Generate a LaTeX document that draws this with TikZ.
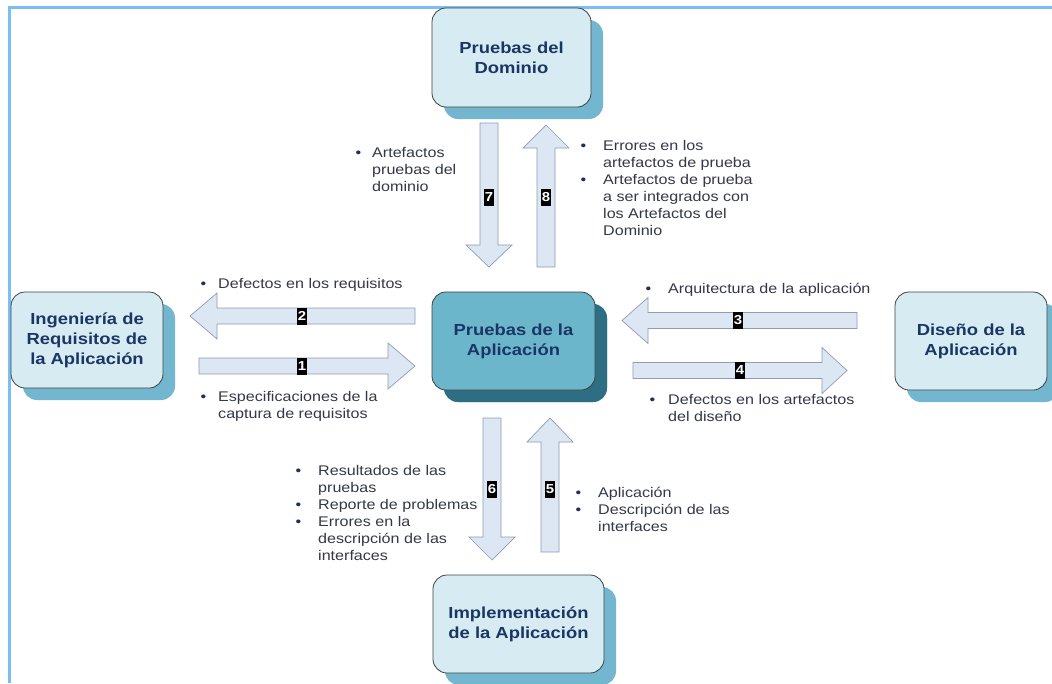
\documentclass[tikz,border=0pt]{standalone}
\usepackage{fontspec}
\setmainfont[FakeStretch=1.15]{Liberation Sans}
\usetikzlibrary{shadows}
\definecolor{framec}{HTML}{7ABEF4}
\definecolor{boxlight}{HTML}{D6ECF2}
\definecolor{shadowlight}{HTML}{72B7CF}
\definecolor{boxmid}{HTML}{6CB6CC}
\definecolor{shadowdark}{HTML}{2D6E82}
\definecolor{titlec}{HTML}{1B3565}
\definecolor{textc}{HTML}{33384A}
\definecolor{bulc}{HTML}{1E2F5C}
\definecolor{arrowfill}{HTML}{DDE7F3}
\definecolor{arrowdraw}{HTML}{8D9DB3}
\newcommand\bul[1][11pt]{\llap{\textcolor{bulc}{\textbullet}\hspace{#1}}}
\newcommand\harr[4]{\draw[barrow] (#2,#1-8) -- (#4,#1-8) -- (#4,#1-23) -- (#3,#1) -- (#4,#1+23) -- (#4,#1+8) -- (#2,#1+8) -- cycle;}
\newcommand\varr[4]{\draw[barrow] (#1-9,#2) -- (#1-9,#4) -- (#1-23,#4) -- (#1,#3) -- (#1+23,#4) -- (#1+9,#4) -- (#1+9,#2) -- cycle;}
\begin{document}
\begin{tikzpicture}[x=1pt,y=-1pt,
  box/.style={draw=black!75, line width=0.8pt, rounded corners=14pt, fill=boxlight,
    align=center, font=\fontsize{16}{20}\selectfont\bfseries, text=titlec,
    drop shadow={shadow xshift=12pt, shadow yshift=-12pt, fill=shadowlight, opacity=1}},
  centerbox/.style={box, fill=boxmid,
    drop shadow={shadow xshift=12pt, shadow yshift=-12pt, fill=shadowdark, opacity=1}},
  barrow/.style={fill=arrowfill, draw=arrowdraw, line width=0.7pt, line join=miter},
  numlab/.style={fill=black, text=white, inner sep=0pt, minimum width=10pt, minimum height=17pt,
    font=\fontsize{13}{13}\selectfont\bfseries},
  txt/.style={anchor=base west, inner sep=0pt, text=textc, font=\fontsize{14}{17}\selectfont}
]
\useasboundingbox (0,0) rectangle (1052,683);
\clip (0,0) rectangle (1052,683);
\fill[white] (0,0) rectangle (1052,683);
\draw[framec, line width=2.5pt] (9.5,683) -- (9.5,7.5) -- (1052,7.5);

% boxes
\node[box, minimum width=159pt, minimum height=99pt] (dom) at (511.5,57.5) {Pruebas del\\Dominio};
\node[box, minimum width=152pt, minimum height=96pt] (ing) at (87,340) {Ingeniería de\\Requisitos de\\la Aplicación};
\node[centerbox, minimum width=163pt, minimum height=98pt] (pru) at (513.5,341) {Pruebas de la\\Aplicación};
\node[box, minimum width=152pt, minimum height=98pt] (dis) at (971,341) {Diseño de la\\Aplicación};
\node[box, minimum width=171pt, minimum height=98pt] (imp) at (518.5,624) {Implementación\\de la Aplicación};

% block arrows
\harr{316}{415}{190}{217}
\harr{366}{199}{415}{388}
\harr{320.5}{857}{622}{648}
\harr{370.5}{633}{847}{822}
\varr{489}{123}{267}{245}
\varr{546}{267}{125}{148}
\varr{492}{418}{560}{537}
\varr{550}{552}{418}{442}

% number labels
\node[numlab] (n1) at (302,366) {1};
\node[numlab] (n2) at (302,316) {2};
\node[numlab] (n3) at (738,320.5) {3};
\node[numlab] (n4) at (740,370.5) {4};
\node[numlab] (n5) at (550,489) {5};
\node[numlab] (n6) at (492,489) {6};
\node[numlab] (n7) at (489,197) {7};
\node[numlab] (n8) at (546,197) {8};

% texts
\node[txt] (t7) at (372,157) {\begin{tabular}[t]{@{}l@{}}\bul Artefactos\\pruebas del\\dominio\end{tabular}};
\node[txt] (t8) at (603,150) {\begin{tabular}[t]{@{}l@{}}\bul[17pt]Errores en los\\artefactos de prueba\\\bul[17pt]Artefactos de prueba\\a ser integrados con\\los Artefactos del\\Dominio\end{tabular}};
\node[txt] (t2) at (218,288) {\begin{tabular}[t]{@{}l@{}}\bul[12pt]Defectos en los requisitos\end{tabular}};
\node[txt] (t1) at (218,401) {\begin{tabular}[t]{@{}l@{}}\bul[12pt]Especificaciones de la\\captura de requisitos\end{tabular}};
\node[txt] (t3) at (668,293) {\begin{tabular}[t]{@{}l@{}}\bul[17pt]Arquitectura de la aplicación\end{tabular}};
\node[txt] (t4) at (668,404) {\begin{tabular}[t]{@{}l@{}}\bul[13pt]Defectos en los artefactos\\del diseño\end{tabular}};
\node[txt] (t6) at (318,475) {\begin{tabular}[t]{@{}l@{}}\bul[17pt]Resultados de las\\pruebas\\\bul[17pt]Reporte de problemas\\\bul[17pt]Errores en la\\descripción de las\\interfaces\end{tabular}};
\node[txt] (t5) at (598,497) {\begin{tabular}[t]{@{}l@{}}\bul[17pt]Aplicación\\\bul[17pt]Descripción de las\\interfaces\end{tabular}};
\end{tikzpicture}
\end{document}
